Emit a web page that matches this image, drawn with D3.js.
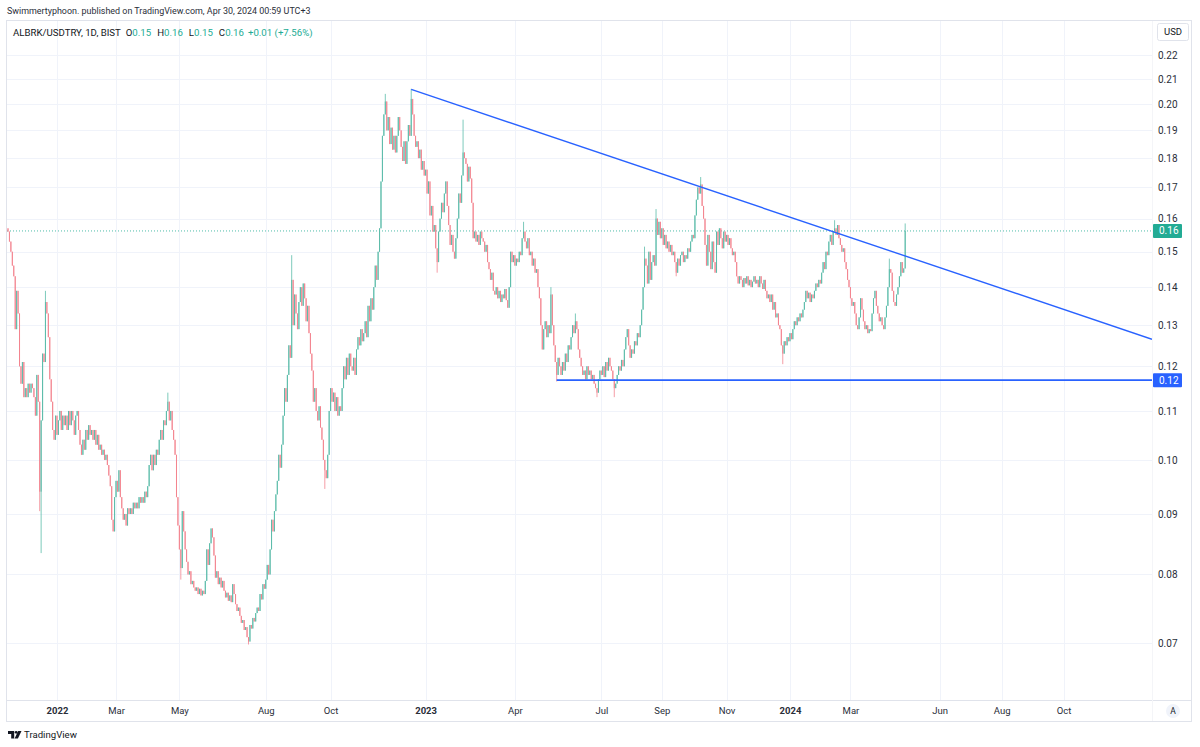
<!DOCTYPE html>
<html>
<head>
<meta charset="utf-8">
<script src="https://cdn.jsdelivr.net/npm/d3@7"></script>
<style>
    body { margin: 0; background: #fff; }
    svg { display: block; font-family: Roboto, "Liberation Sans", sans-serif; }
</style>
</head>
<body>
<div id="chart"></div>
<script>
// daily closes, one per bar (mid nov 2021 -> 29 apr 2024)
const closes = [
    0.156, 0.153, 0.150, 0.146, 0.143, 0.129, 0.139, 0.133, 0.120, 0.116,
    0.121, 0.113, 0.115, 0.113, 0.116, 0.114, 0.116, 0.115, 0.113, 0.109,
    0.118, 0.112, 0.094, 0.108, 0.123, 0.121, 0.136, 0.133, 0.127, 0.117,
    0.112, 0.106, 0.104, 0.109, 0.105, 0.108, 0.110, 0.106, 0.109, 0.107,
    0.109, 0.106, 0.110, 0.107, 0.110, 0.108, 0.105, 0.109, 0.110, 0.106,
    0.103, 0.101, 0.104, 0.102, 0.106, 0.104, 0.107, 0.105, 0.106, 0.104,
    0.106, 0.103, 0.105, 0.102, 0.103, 0.101, 0.102, 0.100, 0.101, 0.099,
    0.097, 0.095, 0.089, 0.087, 0.093, 0.096, 0.094, 0.098, 0.093, 0.091,
    0.089, 0.090, 0.088, 0.091, 0.090, 0.091, 0.090, 0.092, 0.091, 0.092,
    0.091, 0.093, 0.092, 0.093, 0.092, 0.094, 0.093, 0.095, 0.099, 0.101,
    0.098, 0.101, 0.099, 0.102, 0.101, 0.104, 0.106, 0.104, 0.108, 0.107,
    0.110, 0.112, 0.108, 0.110, 0.106, 0.104, 0.101, 0.093, 0.088, 0.084,
    0.081, 0.0905, 0.087, 0.084, 0.082, 0.080, 0.0805, 0.0785, 0.079, 0.078,
    0.0775, 0.078, 0.077, 0.0778, 0.0768, 0.0775, 0.077, 0.079, 0.084, 0.0815,
    0.085, 0.0875, 0.086, 0.083, 0.0795, 0.0805, 0.0785, 0.0795, 0.078, 0.079,
    0.0775, 0.0765, 0.0772, 0.076, 0.0768, 0.0758, 0.0785, 0.077, 0.0755, 0.0745,
    0.075, 0.0738, 0.0728, 0.0732, 0.0718, 0.0722, 0.0708, 0.0702, 0.0725, 0.072,
    0.0735, 0.073, 0.0742, 0.075, 0.0745, 0.077, 0.0762, 0.0785, 0.0778, 0.0792,
    0.0815, 0.080, 0.084, 0.089, 0.087, 0.0905, 0.0935, 0.096, 0.101, 0.0985,
    0.103, 0.109, 0.115, 0.112, 0.118, 0.125, 0.122, 0.142, 0.130, 0.138,
    0.133, 0.129, 0.136, 0.140, 0.135, 0.141, 0.137, 0.131, 0.135, 0.128,
    0.123, 0.119, 0.112, 0.115, 0.110, 0.108, 0.111, 0.1065, 0.104, 0.100,
    0.098, 0.0965, 0.101, 0.110, 0.115, 0.112, 0.114, 0.110, 0.113, 0.109,
    0.111, 0.110, 0.115, 0.120, 0.117, 0.122, 0.118, 0.123, 0.120, 0.119,
    0.122, 0.118, 0.124, 0.127, 0.125, 0.129, 0.126, 0.128, 0.131, 0.127,
    0.135, 0.131, 0.137, 0.134, 0.140, 0.146, 0.142, 0.150, 0.157, 0.172,
    0.188, 0.196, 0.201, 0.190, 0.195, 0.185, 0.191, 0.183, 0.188, 0.182,
    0.188, 0.195, 0.190, 0.184, 0.179, 0.186, 0.178, 0.186, 0.192, 0.188,
    0.202, 0.196, 0.188, 0.184, 0.186, 0.180, 0.183, 0.176, 0.179, 0.174,
    0.176, 0.168, 0.172, 0.161, 0.164, 0.156, 0.158, 0.151, 0.147, 0.156,
    0.160, 0.165, 0.162, 0.168, 0.172, 0.164, 0.158, 0.152, 0.155, 0.150,
    0.148, 0.154, 0.160, 0.168, 0.165, 0.174, 0.182, 0.180, 0.178, 0.172,
    0.177, 0.173, 0.165, 0.154, 0.156, 0.153, 0.155, 0.152, 0.156, 0.154,
    0.153, 0.150, 0.152, 0.147, 0.145, 0.142, 0.144, 0.139, 0.138, 0.140,
    0.137, 0.139, 0.136, 0.138, 0.137, 0.1395, 0.1365, 0.1345, 0.140, 0.150,
    0.147, 0.149, 0.146, 0.148, 0.147, 0.150, 0.149, 0.154, 0.156, 0.153,
    0.151, 0.154, 0.149, 0.150, 0.146, 0.148, 0.144, 0.145, 0.140, 0.137,
    0.130, 0.124, 0.129, 0.131, 0.127, 0.130, 0.128, 0.138, 0.130, 0.125,
    0.121, 0.118, 0.122, 0.120, 0.118, 0.121, 0.119, 0.123, 0.121, 0.125,
    0.124, 0.127, 0.130, 0.128, 0.131, 0.129, 0.124, 0.122, 0.120, 0.118,
    0.119, 0.117, 0.120, 0.118, 0.119, 0.117, 0.118, 0.116, 0.115, 0.114,
    0.117, 0.119, 0.118, 0.120, 0.1175, 0.121, 0.119, 0.122, 0.120, 0.119,
    0.117, 0.115, 0.116, 0.118, 0.120, 0.119, 0.1215, 0.120, 0.124, 0.127,
    0.129, 0.125, 0.122, 0.124, 0.123, 0.126, 0.125, 0.128, 0.127, 0.130,
    0.134, 0.140, 0.148, 0.146, 0.141, 0.150, 0.142, 0.147, 0.149, 0.146,
    0.160, 0.155, 0.159, 0.154, 0.157, 0.152, 0.155, 0.151, 0.153, 0.150,
    0.152, 0.149, 0.150, 0.147, 0.144, 0.148, 0.146, 0.149, 0.150, 0.147,
    0.149, 0.148, 0.151, 0.150, 0.153, 0.155, 0.154, 0.161, 0.166, 0.170,
    0.168, 0.171, 0.164, 0.160, 0.152, 0.146, 0.155, 0.150, 0.145, 0.153,
    0.147, 0.144, 0.156, 0.152, 0.157, 0.154, 0.151, 0.156, 0.153, 0.155,
    0.152, 0.154, 0.151, 0.149, 0.150, 0.147, 0.143, 0.141, 0.143, 0.142,
    0.140, 0.1425, 0.141, 0.143, 0.1405, 0.142, 0.140, 0.1415, 0.143, 0.141,
    0.142, 0.140, 0.143, 0.141, 0.1395, 0.142, 0.139, 0.137, 0.138, 0.136,
    0.138, 0.134, 0.136, 0.132, 0.133, 0.130, 0.129, 0.125, 0.123, 0.126,
    0.125, 0.127, 0.126, 0.128, 0.1265, 0.129, 0.131, 0.130, 0.132, 0.131,
    0.133, 0.132, 0.134, 0.136, 0.139, 0.137, 0.1385, 0.136, 0.138, 0.137,
    0.139, 0.141, 0.140, 0.142, 0.141, 0.144, 0.147, 0.145, 0.150, 0.149,
    0.153, 0.155, 0.152, 0.156, 0.157, 0.155, 0.158, 0.154, 0.152, 0.150,
    0.151, 0.147, 0.145, 0.142, 0.140, 0.137, 0.135, 0.136, 0.133, 0.130,
    0.129, 0.132, 0.137, 0.134, 0.131, 0.129, 0.130, 0.128, 0.129, 0.1285,
    0.133, 0.137, 0.139, 0.135, 0.133, 0.131, 0.132, 0.130, 0.129, 0.132,
    0.135, 0.140, 0.145, 0.144, 0.139, 0.136, 0.135, 0.138, 0.140, 0.143,
    0.147, 0.144, 0.1452, 0.1562
];
const firstOpen = 0.157;

// wicks that reach past the body: [bar, price]
const wickHighs = [[26, 0.139], [111, 0.114], [197, 0.149], [262, 0.204], [280, 0.206], [316, 0.194],
    [358, 0.159], [377, 0.140], [394, 0.133], [442, 0.1515], [450, 0.163], [481, 0.1735],
    [574, 0.1595], [612, 0.148], [623, 0.1585]];
const wickLows = [[22, 0.0905], [23, 0.0834], [120, 0.0792], [167, 0.0698], [220, 0.0945], [298, 0.144],
    [381, 0.1165], [409, 0.113], [421, 0.113], [464, 0.143], [538, 0.1205]];

// price scale
const priceTicks = [0.07, 0.08, 0.09, 0.10, 0.11, 0.12, 0.13, 0.14, 0.15, 0.16, 0.17, 0.18, 0.19, 0.20, 0.21, 0.22];

// time scale: label and the bar it sits on (future bars past the last candle)
const timeLabels = ["2022", "Mar", "May", "Aug", "Oct", "2023", "Apr", "Jul", "Sep", "Nov", "2024", "Mar", "Jun", "Aug", "Oct"];
const timeBars = [34, 75, 119, 179, 224, 290, 352, 412, 454, 499, 543, 585, 647, 690, 733];

// drawings on the chart
const trendPoints = [[280, 0.2058], [794.4, 0.1265]];
const supportPrice = 0.1168;
const supportStartBar = 381;
const lastPrice = 0.1562;

const headerText = "Swimmertyphoon. published on TradingView.com, Apr 30, 2024 00:59 UTC+3";
const symbolText = "ALBRK/USDTRY, 1D, BIST";
const ohlcLabels = ["O", "H", "L", "C"];
const ohlcValues = ["0.15", "0.16", "0.15", "0.16"];
const changeText = "+0.01 (+7.56%)";

const W = 1200, H = 747;
const pane = { left: 7, right: 1152, top: 21, bottom: 700 };
const UP = "#22ab94", DOWN = "#f7525f", BLUE = "#2962ff", TEXT = "#131722", GRID = "#f0f3fa", BORDER = "#e0e3eb";
// thin 1px candles come out lighter in the screenshot
const CANDLE_UP = "#5cbcaa", CANDLE_DOWN = "#f3848f";

const svg = d3.select("#chart").append("svg")
    .attr("width", W)
    .attr("height", H);

svg.append("rect").attr("width", W).attr("height", H).attr("fill", "#fff");

// bar index -> x, last visible slot at the right edge of the pane
const x = d3.scaleLinear()
    .domain([-0.7, 794.4])
    .range([pane.left, pane.right]);

const y = d3.scaleLog()
    .domain([0.07, 0.21])
    .range([643, 79]);

const bars = closes.map((c, i) => {
    const o = i === 0 ? firstOpen : closes[i - 1];
    const hi = wickHighs.find(w => w[0] === i);
    const lo = wickLows.find(w => w[0] === i);
    return {
        i, o, c,
        h: hi ? hi[1] : Math.max(o, c),
        l: lo ? lo[1] : Math.min(o, c)
    };
});

// clip for the pane
svg.append("clipPath").attr("id", "pane-clip")
    .append("rect")
    .attr("x", pane.left).attr("y", pane.top)
    .attr("width", pane.right - pane.left).attr("height", pane.bottom - pane.top);

const grid = svg.append("g").attr("clip-path", "url(#pane-clip)");

// horizontal grid
grid.selectAll("line.hgrid")
    .data(priceTicks)
    .join("line")
    .attr("class", "hgrid")
    .attr("x1", pane.left).attr("x2", pane.right)
    .attr("y1", d => Math.round(y(d)) + 0.5).attr("y2", d => Math.round(y(d)) + 0.5)
    .attr("stroke", GRID);

// vertical grid
grid.selectAll("line.vgrid")
    .data(timeBars)
    .join("line")
    .attr("class", "vgrid")
    .attr("x1", d => Math.round(x(d)) + 0.5).attr("x2", d => Math.round(x(d)) + 0.5)
    .attr("y1", pane.top).attr("y2", pane.bottom)
    .attr("stroke", GRID);

const plot = svg.append("g").attr("clip-path", "url(#pane-clip)");

// last price dotted line
plot.append("line")
    .attr("x1", pane.left).attr("x2", pane.right)
    .attr("y1", y(lastPrice)).attr("y2", y(lastPrice))
    .attr("stroke", UP)
    .attr("stroke-width", 1)
    .attr("stroke-opacity", 0.8)
    .attr("stroke-dasharray", "1,2");

// candles
const candleColor = d => d.c >= d.o ? CANDLE_UP : CANDLE_DOWN;

plot.selectAll("line.wick")
    .data(bars)
    .join("line")
    .attr("class", "wick")
    .attr("x1", d => x(d.i)).attr("x2", d => x(d.i))
    .attr("y1", d => y(d.h)).attr("y2", d => y(d.l))
    .attr("stroke", candleColor)
    .attr("stroke-width", 0.8);

plot.selectAll("rect.body")
    .data(bars)
    .join("rect")
    .attr("class", "body")
    .attr("x", d => x(d.i) - 0.5)
    .attr("width", 1)
    .attr("y", d => y(Math.max(d.o, d.c)))
    .attr("height", d => Math.max(1, Math.abs(y(d.o) - y(d.c))))
    .attr("fill", candleColor);

// falling trend line
plot.append("line")
    .attr("x1", x(trendPoints[0][0])).attr("y1", y(trendPoints[0][1]))
    .attr("x2", x(trendPoints[1][0])).attr("y2", y(trendPoints[1][1]))
    .attr("stroke", BLUE)
    .attr("stroke-width", 1.4);

// horizontal support
plot.append("line")
    .attr("x1", x(supportStartBar)).attr("x2", pane.right)
    .attr("y1", y(supportPrice)).attr("y2", y(supportPrice))
    .attr("stroke", BLUE)
    .attr("stroke-width", 1.7);

// frame
svg.append("rect")
    .attr("x", 6.5).attr("y", 20.5)
    .attr("width", 1185).attr("height", 701)
    .attr("fill", "none")
    .attr("stroke", BORDER);

svg.append("line")
    .attr("x1", 7).attr("x2", 1192)
    .attr("y1", pane.bottom + 0.5).attr("y2", pane.bottom + 0.5)
    .attr("stroke", BORDER);

svg.append("line")
    .attr("x1", pane.right + 0.5).attr("x2", pane.right + 0.5)
    .attr("y1", 21).attr("y2", 721)
    .attr("stroke", "#f4f5f8");

// price axis
const yAxis = svg.append("g")
    .attr("transform", `translate(${pane.right}, 0)`)
    .call(d3.axisRight(y).tickValues(priceTicks).tickFormat(d3.format(".2f")).tickSize(0).tickPadding(6));
yAxis.select(".domain").remove();
yAxis.selectAll("text")
    .attr("fill", "#2a2e39")
    .attr("font-size", 10)
    .attr("font-family", "Roboto, sans-serif");

// time axis
const xAxis = svg.append("g")
    .attr("transform", `translate(0, ${pane.bottom})`)
    .call(d3.axisBottom(x).tickValues(timeBars).tickFormat((d, i) => timeLabels[i]).tickSize(0).tickPadding(7));
xAxis.select(".domain").remove();
xAxis.selectAll("text")
    .attr("fill", "#2a2e39")
    .attr("font-size", 9.5)
    .attr("font-family", "Roboto, sans-serif")
    .attr("font-weight", (d, i) => /^\d{4}$/.test(timeLabels[i]) ? "bold" : "normal");

// price labels on the axis
function axisTag(price, color) {
    const g = svg.append("g").attr("transform", `translate(${pane.right + 1}, ${y(price)})`);
    g.append("rect")
        .attr("x", 0).attr("y", -7)
        .attr("width", 29).attr("height", 14)
        .attr("rx", 1)
        .attr("fill", color);
    g.append("text")
        .attr("x", 6).attr("dy", "0.35em")
        .attr("fill", "#fff")
        .attr("font-size", 10)
        .text(d3.format(".2f")(price));
}
axisTag(lastPrice, UP);
axisTag(supportPrice, BLUE);

// currency box
svg.append("rect")
    .attr("x", 1157.5).attr("y", 23.5)
    .attr("width", 31).attr("height", 17)
    .attr("rx", 2)
    .attr("fill", "#fff")
    .attr("stroke", BORDER);
svg.append("text")
    .attr("x", 1173).attr("y", 32).attr("dy", "0.35em")
    .attr("text-anchor", "middle")
    .attr("font-size", 9.5)
    .attr("fill", TEXT)
    .text("USD");

// auto-scale button
svg.append("circle")
    .attr("cx", 1173).attr("cy", 711)
    .attr("r", 7)
    .attr("fill", "#f0f3fa");
svg.append("text")
    .attr("x", 1173).attr("y", 711).attr("dy", "0.35em")
    .attr("text-anchor", "middle")
    .attr("font-size", 8.5)
    .attr("fill", TEXT)
    .text("A");

// stretch a text's font size so it spans the given width
function fitWidth(sel, width) {
    const cur = sel.node().getComputedTextLength();
    const fs = parseFloat(sel.attr("font-size"));
    sel.attr("font-size", fs * width / cur);
}

// header
const header = svg.append("text")
    .attr("x", 7).attr("y", 11).attr("dy", "0.35em")
    .attr("font-size", 11)
    .attr("fill", "#2a2e39")
    .text(headerText);
fitWidth(header, 304);

// symbol legend
const legend = svg.append("text")
    .attr("x", 13).attr("y", 33).attr("dy", "0.35em")
    .attr("font-size", 10)
    .attr("fill", TEXT);
legend.append("tspan").text(symbolText);
ohlcLabels.forEach((lab, i) => {
    legend.append("tspan").attr("dx", i === 0 ? 5 : 6).text(lab);
    legend.append("tspan").attr("fill", UP).text(ohlcValues[i]);
});
legend.append("tspan").attr("dx", 4).attr("fill", UP).text(changeText);
fitWidth(legend, 273);

// footer logo
const logo = svg.append("g").attr("fill", TEXT);
logo.append("path").attr("d", "M8,731 h6.2 v7.4 h-3 v-4.4 h-3.2 z");
logo.append("circle").attr("cx", 16.2).attr("cy", 732.3).attr("r", 1.4);
logo.append("path").attr("d", "M18.2,731 h3.3 l-3.6,7.4 h-3.3 z");
const brand = svg.append("text")
    .attr("x", 24).attr("y", 735).attr("dy", "0.35em")
    .attr("font-size", 11)
    .attr("fill", TEXT)
    .text("TradingView");
fitWidth(brand, 53);
</script>
</body>
</html>
